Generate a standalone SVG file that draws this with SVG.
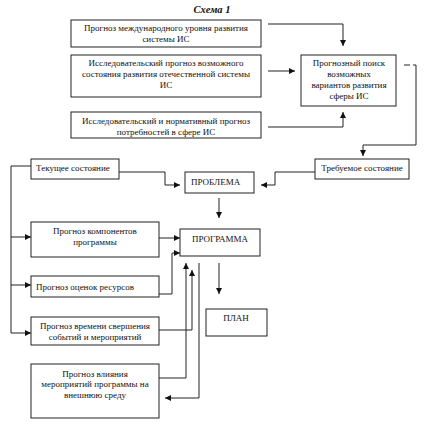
<svg xmlns="http://www.w3.org/2000/svg" width="425" height="429" viewBox="0 0 425 429">
<defs>
<marker id="ah" viewBox="0 0 10 10" refX="10" refY="5" markerWidth="6" markerHeight="6" orient="auto" markerUnits="userSpaceOnUse">
<path d="M0,0 L10,5 L0,10 z" fill="#111"/>
</marker>
<style>
.box{fill:#fff;stroke:#222;stroke-width:1}
.c{fill:none;stroke:#222;stroke-width:1}
.a{marker-end:url(#ah)}
text{font-family:"Liberation Serif","Times New Roman",serif;font-size:9px;fill:#111}
.m{text-anchor:middle}
.title{font-size:10.5px;font-weight:bold;font-style:italic}
</style>
</defs>
<rect width="425" height="429" fill="#fff"/>
<text class="title m" x="212" y="13">Схема 1</text>

<g id="connectors">
<path class="c a" d="M268,24 H343 V46"/>
<path class="c a" d="M268,71 H295"/>
<path class="c a" d="M268,127 H343 V112"/>
<path class="c" d="M404,65 H416" stroke-dasharray="6,3"/>
<path class="c a" d="M416,65 V145 H363 V156"/>
<path class="c a" d="M315,172 H275 V185 H261"/>
<path class="c a" d="M119,172 H165 V185 H180"/>
<path class="c a" d="M219,198 V218"/>
<path class="c a" d="M159,238 H180"/>
<path class="c a" d="M159,294 H172 V253 H180"/>
<path class="c a" d="M159,330 H192 V270"/>
<path class="c a" d="M159,378 H186 V263"/>
<path class="c a" d="M199,263 V398 H165"/>
<path class="c a" d="M219,263 V294"/>
<path class="c" d="M31,166 H11 V333"/>
<path class="c a" d="M11,237 H31"/>
<path class="c a" d="M11,285 H31"/>
<path class="c a" d="M11,333 H31"/>
</g>

<g id="n1"><rect class="box" x="71" y="20" width="190" height="27"/>
<text class="m" x="166" y="31">Прогноз международного уровня развития</text>
<text class="m" x="166" y="42">системы ИС</text></g>

<g id="n2"><rect class="box" x="71" y="55" width="190" height="42"/>
<text class="m" x="166" y="66">Исследовательский прогноз возможного</text>
<text class="m" x="166" y="77">состояния развития отечественной системы</text>
<text class="m" x="166" y="88">ИС</text></g>

<g id="n3"><rect class="box" x="71" y="112" width="190" height="26"/>
<text class="m" x="166" y="124">Исследовательский  и нормативный прогноз</text>
<text class="m" x="166" y="135">потребностей в сфере ИС</text></g>

<g id="n4"><rect class="box" x="301" y="55" width="95" height="51"/>
<text class="m" x="349" y="66">Прогнозный  поиск</text>
<text class="m" x="349" y="77">возможных</text>
<text class="m" x="349" y="88">вариантов развития</text>
<text class="m" x="349" y="99">сферы ИС</text></g>

<g id="n5"><rect class="box" x="315" y="159" width="94" height="20"/>
<text class="m" x="362" y="171">Требуемое состояние</text></g>

<g id="n6"><rect class="box" x="31" y="159" width="88" height="20"/>
<text x="36" y="171">Текущее состояние</text></g>

<g id="n7"><rect class="box" x="185" y="172" width="69" height="21"/>
<text x="191" y="185">ПРОБЛЕМА</text></g>

<g id="n8"><rect class="box" x="180" y="229" width="80" height="27"/>
<text class="m" x="220" y="242">ПРОГРАММА</text></g>

<g id="n9"><rect class="box" x="31" y="222" width="128" height="35"/>
<text class="m" x="95" y="234">Прогноз компонентов</text>
<text class="m" x="95" y="245">программы</text></g>

<g id="n10"><rect class="box" x="31" y="276" width="128" height="21"/>
<text x="36" y="290">Прогноз оценок ресурсов</text></g>

<g id="n11"><rect class="box" x="31" y="317" width="128" height="28"/>
<text class="m" x="95" y="329">Прогноз времени свершения</text>
<text class="m" x="95" y="340">событий и мероприятий</text></g>

<g id="n12"><rect class="box" x="31" y="364" width="128" height="54"/>
<text class="m" x="95" y="377">Прогноз влияния</text>
<text class="m" x="95" y="387">мероприятий программы на</text>
<text class="m" x="95" y="398">внешнюю среду</text></g>

<g id="n13"><rect class="box" x="206" y="309" width="61" height="27"/>
<text class="m" x="236" y="321">ПЛАН</text></g>
</svg>
